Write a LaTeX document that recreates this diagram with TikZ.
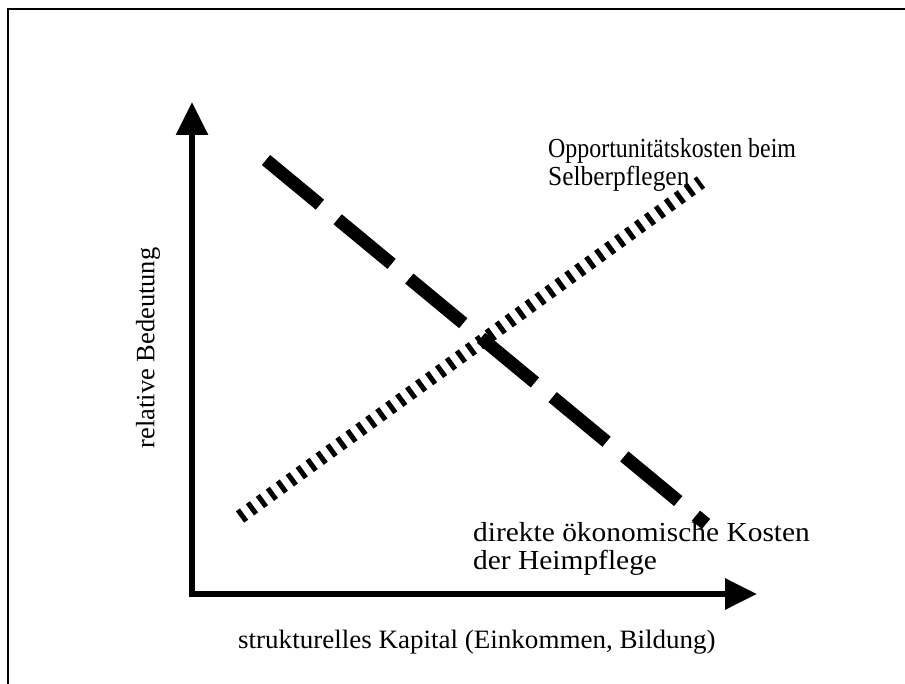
\documentclass[tikz,border=0pt]{standalone}
\usepackage{fontspec}
\setmainfont{Liberation Serif}
\usetikzlibrary{arrows.meta}
\begin{document}
\begin{tikzpicture}[x=1pt,y=-1pt,
  lbl/.style={inner sep=0pt, font=\fontsize{27.5pt}{30pt}\selectfont},
  axisline/.style={line width=6pt, line join=miter},
  longdash/.style={line width=13pt, dash pattern=on 70pt off 23pt},
  ties/.style={line width=14pt, dash pattern=on 5pt off 7.3pt}]
\useasboundingbox (0,0) rectangle (905,684);
% frame
\draw[line width=2.2pt] (8,684) -- (8,9) -- (905,9);
% axes
\coordinate (ytip) at (192,102);
\coordinate (origin) at (192,594);
\coordinate (xtip) at (757,594);
\draw[axisline, {Triangle[length=33pt,width=31pt]}-{Triangle[length=32pt,width=30pt]}] (ytip) -- (origin) -- (xtip);
% curves
\coordinate (d1) at (266,160);
\coordinate (d2) at (706,524);
\draw[longdash] (d1) -- (d2);
\coordinate (t1) at (240,517);
\coordinate (t2) at (701,182);
\draw[ties] (t1) -- (t2);
% labels
\node[lbl, anchor=base west] (opp1) at (548,158) {\scalebox{0.87}[1]{Opportunitätskosten beim}};
\node[lbl, anchor=base west] (opp2) at (548,186) {\scalebox{0.925}[1]{Selberpflegen}};
\node[lbl, anchor=base west] (dir1) at (473,541) {\scalebox{1.07}[1]{direkte ökonomische Kosten}};
\node[lbl, anchor=base west] (dir2) at (473,569) {\scalebox{1.07}[1]{der Heimpflege}};
\node[lbl, anchor=base west, font=\fontsize{26.5pt}{30pt}\selectfont] (xlab) at (238,648) {\scalebox{1.02}[1]{strukturelles Kapital (Einkommen, Bildung)}};
\node[lbl, rotate=90, font=\fontsize{26.5pt}{30pt}\selectfont] (ylab) at (148,348) {relative Bedeutung};
\end{tikzpicture}
\end{document}
